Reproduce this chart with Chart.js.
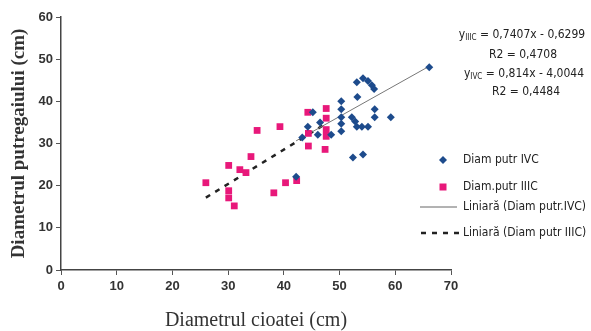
<!DOCTYPE html>
<html>
<head>
<meta charset="utf-8">
<script src="https://cdn.jsdelivr.net/npm/chart.js@4.4.1/dist/chart.umd.min.js"></script>
<style>
  html, body { margin: 0; padding: 0; background: #fff; }
  canvas { display: block; }
</style>
</head>
<body>
<canvas id="grafic" width="591" height="331"></canvas>
<script>
// Diametrul cioatei (x) si diametrul putregaiului (y), cm
const ivcX = [66.1, 53.1, 54.2, 55.1, 55.8, 56.2, 53.2, 50.3, 50.3, 50.3, 50.3, 50.3,
  56.3, 56.3, 59.2, 52.2, 52.8, 53.1, 54.0, 55.1, 45.2, 44.3, 43.3, 46.5, 46.1, 48.5,
  52.4, 54.2, 42.2];
const ivcY = [48.1, 44.5, 45.5, 44.8, 43.8, 42.9, 41.0, 40.0, 38.1, 36.2, 34.7, 32.9,
  38.1, 36.2, 36.2, 36.2, 35.2, 34.0, 34.0, 34.0, 37.4, 34.0, 31.4, 35.0, 32.1, 32.1,
  26.7, 27.4, 22.1];

const iiicX = [26.0, 30.1, 30.1, 30.1, 31.1, 32.1, 33.2, 34.1, 35.2, 38.2, 39.3, 40.3,
  42.3, 44.3, 44.4, 44.4, 47.6, 47.6, 47.6, 47.6, 47.4];
const iiicY = [20.7, 24.8, 18.8, 17.1, 15.2, 23.8, 23.1, 26.9, 33.1, 18.3, 34.0, 20.7,
  21.2, 37.4, 32.4, 29.4, 38.3, 36.0, 33.3, 31.7, 28.6];

// ecuatiile liniilor de tendinta (panta, interceptie) si R2
const trendIvc = [0.7407, -0.6299];
const trendIiic = [0.814, -4.0044];
const r2 = ["0,4708", "0,4484"];

const etichete = ["Diam putr IVC", "Diam.putr IIIC", "Liniară (Diam putr.IVC)", "Liniară (Diam putr IIIC)"];

const albastru = "#1d4b8c";
const roz = "#e8187a";
const fontIngust = "'Liberation Sans Narrow', 'DejaVu Sans Condensed', Arial, sans-serif";

function puncte(xs, ys) {
  return xs.map((x, i) => ({ x: x, y: ys[i] }));
}

function linie(coef, xs) {
  const x0 = Math.min(...xs);
  const x1 = Math.max(...xs);
  return [
    { x: x0, y: coef[0] * x0 + coef[1] },
    { x: x1, y: coef[0] * x1 + coef[1] }
  ];
}

// legenda si ecuatiile, desenate langa grafic
const legendaPlugin = {
  id: "legenda",
  afterDraw(chart) {
    const c = chart.ctx;
    c.save();

    // ecuatii
    function ecuatie(sub, rest, cx, y) {
      c.font = "12px " + fontIngust;
      const w1 = c.measureText("y").width;
      const w3 = c.measureText(rest).width;
      c.font = "8px " + fontIngust;
      const w2 = c.measureText(sub).width;
      let x = cx - (w1 + w2 + w3) / 2;
      c.fillStyle = "#222";
      c.textBaseline = "middle";
      c.textAlign = "left";
      c.font = "12px " + fontIngust;
      c.fillText("y", x, y);
      c.font = "8px " + fontIngust;
      c.fillText(sub, x + w1, y + 3);
      c.font = "12px " + fontIngust;
      c.fillText(rest, x + w1 + w2, y);
    }
    function centrat(text, cx, y) {
      c.font = "12px " + fontIngust;
      c.fillStyle = "#222";
      c.textAlign = "center";
      c.textBaseline = "middle";
      c.fillText(text, cx, y);
    }
    ecuatie("IIIC", " = 0,7407x - 0,6299", 522, 35);
    centrat("R2 = " + r2[0], 523, 55);
    ecuatie("IVC", " = 0,814x - 4,0044", 524, 74);
    centrat("R2 = " + r2[1], 526, 92);

    // simboluri legenda
    c.fillStyle = albastru;
    c.beginPath();
    c.moveTo(443, 156); c.lineTo(447, 160); c.lineTo(443, 164); c.lineTo(439, 160);
    c.closePath();
    c.fill();

    c.fillStyle = roz;
    c.fillRect(439.5, 183.5, 7, 7);

    c.strokeStyle = "#666";
    c.lineWidth = 1;
    c.beginPath();
    c.moveTo(420, 207); c.lineTo(457, 207);
    c.stroke();

    c.strokeStyle = "#222";
    c.lineWidth = 2.5;
    c.setLineDash([5, 6]);
    c.beginPath();
    c.moveTo(421, 233); c.lineTo(461, 233);
    c.stroke();
    c.setLineDash([]);

    c.fillStyle = "#222";
    c.font = "12px " + fontIngust;
    c.textAlign = "left";
    c.textBaseline = "middle";
    const ys = [160, 187, 207, 233];
    etichete.forEach((t, i) => c.fillText(t, 463, ys[i]));

    c.restore();
  }
};

const ctx = document.getElementById("grafic").getContext("2d");

new Chart(ctx, {
  type: "scatter",
  data: {
    datasets: [
      {
        label: etichete[0],
        data: puncte(ivcX, ivcY),
        pointStyle: "rectRot",
        pointRadius: 4,
        backgroundColor: albastru,
        borderColor: albastru,
        borderWidth: 0
      },
      {
        label: etichete[1],
        data: puncte(iiicX, iiicY),
        pointStyle: "rect",
        pointRadius: 4.8,
        backgroundColor: roz,
        borderColor: roz,
        borderWidth: 0
      },
      {
        type: "line",
        label: etichete[2],
        data: linie(trendIvc, ivcX),
        borderColor: "#777",
        borderWidth: 1,
        pointRadius: 0,
        fill: false
      },
      {
        type: "line",
        label: etichete[3],
        data: linie(trendIiic, iiicX),
        borderColor: "#222",
        borderWidth: 2.5,
        borderDash: [5, 6],
        pointRadius: 0,
        fill: false
      }
    ]
  },
  options: {
    responsive: false,
    animation: false,
    layout: { padding: { left: 0, top: 17, right: 140, bottom: 0 } },
    plugins: {
      legend: { display: false },
      tooltip: { enabled: false }
    },
    scales: {
      x: {
        type: "linear",
        min: 0,
        max: 70,
        ticks: { stepSize: 10, color: "#333", padding: 4, font: { size: 13, weight: "bold", family: "'Liberation Sans', Arial, sans-serif" } },
        grid: { drawOnChartArea: false, tickLength: 5, color: "#555" },
        border: { color: "#444", width: 1.5 },
        title: {
          display: true,
          text: "Diametrul cioatei (cm)",
          color: "#333",
          padding: { top: 0, bottom: 0 },
          font: { family: "'Liberation Serif', 'Times New Roman', serif", size: 20, lineHeight: 1 }
        },
        afterFit: function (s) { s.height = 61; }
      },
      y: {
        min: 0,
        max: 60,
        ticks: { stepSize: 10, color: "#333", padding: 3, font: { size: 13, weight: "bold", family: "'Liberation Sans', Arial, sans-serif" } },
        grid: { drawOnChartArea: false, tickLength: 5, color: "#555" },
        border: { color: "#444", width: 1.5 },
        title: {
          display: true,
          text: "Diametrul putregaiului (cm)",
          color: "#333",
          padding: { top: 8, bottom: 0 },
          font: { family: "'Liberation Serif', 'Times New Roman', serif", size: 19, weight: "bold", lineHeight: 1.2 }
        },
        afterFit: function (s) { s.width = 61; }
      }
    }
  },
  plugins: [legendaPlugin]
});
</script>
</body>
</html>
